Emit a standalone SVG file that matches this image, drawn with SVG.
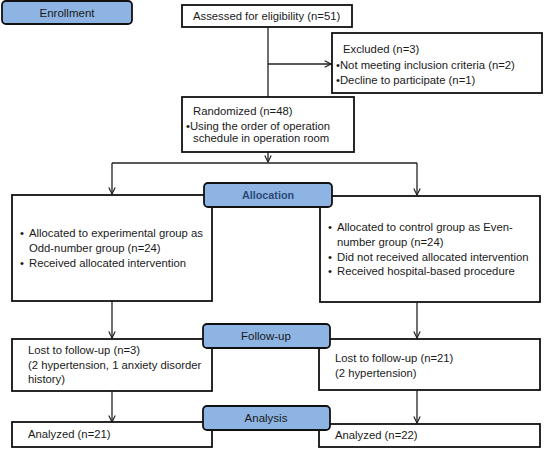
<svg xmlns="http://www.w3.org/2000/svg" width="547" height="450" viewBox="0 0 547 450">
<style>
.box{fill:#fff;stroke:#111;stroke-width:1.8}
.hdr{fill:#8db4e2;stroke:#111;stroke-width:1.8}
.t{font-family:"Liberation Sans",Arial,sans-serif;font-size:11.3px;fill:#1a1a1a}
.h{font-family:"Liberation Sans",Arial,sans-serif;font-size:11.5px;fill:#1a1a1a;text-anchor:middle}
.hb{font-family:"Liberation Sans",Arial,sans-serif;font-size:10.8px;font-weight:bold;fill:#2c4a78;text-anchor:middle}
.c{fill:none;stroke:#222;stroke-width:1.3}
</style>
<defs>
<marker id="arr" viewBox="0 0 10 10" refX="9" refY="5" markerWidth="8" markerHeight="8" markerUnits="userSpaceOnUse" orient="auto">
<polyline points="1,1 9,5 1,9" fill="none" stroke="#222" stroke-width="1.5"/>
</marker>
</defs>
<g id="connectors">
<line class="c" x1="268" y1="27" x2="268" y2="97"/>
<line class="c" x1="268" y1="64" x2="331" y2="64" marker-end="url(#arr)"/>
<line class="c" x1="268" y1="152" x2="268" y2="162" marker-end="url(#arr)"/>
<line class="c" x1="112" y1="163" x2="417" y2="163"/>
<line class="c" x1="112" y1="163" x2="112" y2="194" marker-end="url(#arr)"/>
<line class="c" x1="417" y1="163" x2="417" y2="195" marker-end="url(#arr)"/>
<line class="c" x1="112" y1="301" x2="112" y2="338" marker-end="url(#arr)"/>
<line class="c" x1="417" y1="302" x2="417" y2="338" marker-end="url(#arr)"/>
<line class="c" x1="112" y1="391" x2="112" y2="422" marker-end="url(#arr)"/>
<line class="c" x1="417" y1="390" x2="417" y2="423" marker-end="url(#arr)"/>
</g>
<g id="enrollment">
<rect class="hdr" x="2" y="1" width="130" height="23" rx="4"/>
<text class="h" x="67" y="16.5">Enrollment</text>
</g>
<g id="assessed">
<rect class="box" x="182" y="5" width="170" height="22"/>
<text class="t" x="193" y="20">Assessed for eligibility (n=51)</text>
</g>
<g id="excluded">
<rect class="box" x="332" y="33" width="210" height="60"/>
<text class="t" x="343" y="53">Excluded (n=3)</text>
<text class="t" x="336" y="69">•Not meeting inclusion criteria (n=2)</text>
<text class="t" x="336" y="84">•Decline to participate (n=1)</text>
</g>
<g id="randomized">
<rect class="box" x="182" y="97" width="172" height="55"/>
<text class="t" x="193" y="115">Randomized (n=48)</text>
<text class="t" x="186" y="130">•Using the order of operation</text>
<text class="t" x="193" y="142">schedule in operation room</text>
</g>
<g id="alloc-left">
<rect class="box" x="12" y="195" width="200" height="106"/>
<text class="t" x="20" y="237">•</text>
<text class="t" x="29" y="237">Allocated to experimental group as</text>
<text class="t" x="29" y="252">Odd-number group (n=24)</text>
<text class="t" x="20" y="267">•</text>
<text class="t" x="29" y="267">Received allocated intervention</text>
</g>
<g id="alloc-right">
<rect class="box" x="320" y="196" width="220" height="106"/>
<text class="t" x="328" y="231">•</text>
<text class="t" x="337" y="231">Allocated to control group as Even-</text>
<text class="t" x="337" y="246">number group (n=24)</text>
<text class="t" x="328" y="261">•</text>
<text class="t" x="337" y="261">Did not received allocated intervention</text>
<text class="t" x="328" y="275">•</text>
<text class="t" x="337" y="275">Received hospital-based procedure</text>
</g>
<g id="allocation">
<rect class="hdr" x="204" y="183" width="128" height="24" rx="4"/>
<text class="hb" x="268" y="198.5">Allocation</text>
</g>
<g id="lost-left">
<rect class="box" x="12" y="339" width="200" height="52"/>
<text class="t" x="28" y="354">Lost to follow-up (n=3)</text>
<text class="t" x="28" y="369">(2 hypertension, 1 anxiety disorder</text>
<text class="t" x="28" y="383">history)</text>
</g>
<g id="lost-right">
<rect class="box" x="319" y="339" width="221" height="51"/>
<text class="t" x="335" y="362">Lost to follow-up (n=21)</text>
<text class="t" x="335" y="377">(2 hypertension)</text>
</g>
<g id="followup">
<rect class="hdr" x="203" y="324" width="127" height="24" rx="4"/>
<text class="h" x="266" y="340">Follow-up</text>
</g>
<g id="analyzed-left">
<rect class="box" x="12" y="422" width="200" height="25"/>
<text class="t" x="28" y="438">Analyzed (n=21)</text>
</g>
<g id="analyzed-right">
<rect class="box" x="319" y="424" width="221" height="23"/>
<text class="t" x="335" y="439">Analyzed (n=22)</text>
</g>
<g id="analysis">
<rect class="hdr" x="203" y="406" width="127" height="24" rx="4"/>
<text class="h" x="266" y="422">Analysis</text>
</g>
</svg>
